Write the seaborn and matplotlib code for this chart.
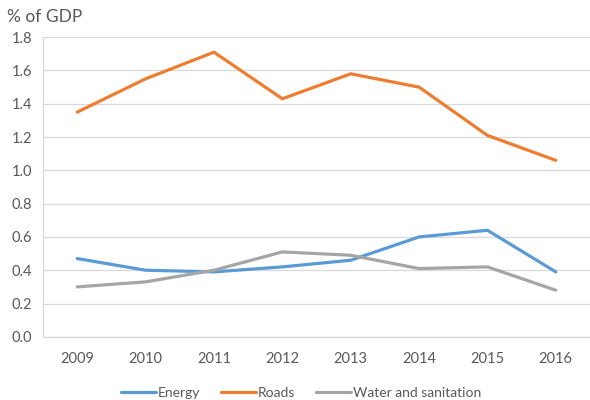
import numpy as np
import pandas as pd
import matplotlib
matplotlib.use('Agg')
import matplotlib.pyplot as plt
import seaborn as sns

# Datos (% del PIB)
years = ['2009', '2010', '2011', '2012', '2013', '2014', '2015', '2016']
energy = [0.47, 0.40, 0.39, 0.42, 0.46, 0.60, 0.64, 0.39]
roads = [1.35, 1.55, 1.71, 1.43, 1.58, 1.50, 1.21, 1.06]
water = [0.30, 0.33, 0.40, 0.51, 0.49, 0.41, 0.42, 0.28]
series_names = ['Energy', 'Roads', 'Water and sanitation']
colors = ['#5B9BD5', '#ED7D31', '#A5A5A5']
yticks = [0.0, 0.2, 0.4, 0.6, 0.8, 1.0, 1.2, 1.4, 1.6, 1.8]

df = pd.DataFrame({
    'year': years * 3,
    'value': energy + roads + water,
    'series': [s for s in series_names for _ in years],
})

sns.set_style('white')
plt.rcParams['font.family'] = ['Lato', 'DejaVu Sans']
text_color = '#595959'
grid_color = '#D9D9D9'

fig = plt.figure(figsize=(5.9, 4), dpi=100)
ax = fig.add_axes([0.073, 0.158, 0.927, 0.749])

sns.lineplot(data=df, x='year', y='value', hue='series', palette=colors,
             linewidth=2.3, ax=ax, legend=False, sort=False)

ax.set_xlim(-0.5, len(years) - 0.5)
ax.set_ylim(0, 1.8)
ax.set_yticks(yticks)
ax.set_yticklabels([f'{v:.1f}' for v in yticks])
ax.yaxis.grid(True, color=grid_color, linewidth=0.9)
ax.set_axisbelow(True)
for side in ['top', 'right']:
    ax.spines[side].set_visible(False)
for side in ['left', 'bottom']:
    ax.spines[side].set_color(grid_color)
    ax.spines[side].set_linewidth(0.9)
ax.tick_params(axis='both', length=0, labelsize=10.5, colors=text_color)
ax.tick_params(axis='x', pad=11)
ax.tick_params(axis='y', pad=8)
ax.set_xlabel('')
ax.set_ylabel('')

fig.text(0.012, 0.958, '% of GDP', fontsize=12.5, color=text_color, va='center', ha='left')

handles = [plt.Line2D([0], [0], color=c, linewidth=2.3) for c in colors]
fig.legend(handles, series_names, loc='center', bbox_to_anchor=(0.51, 0.017),
           ncol=3, frameon=False, fontsize=10, labelcolor=text_color,
           handlelength=2.5, handletextpad=0.15, columnspacing=1.5)

fig.savefig('out.png', dpi=100)
